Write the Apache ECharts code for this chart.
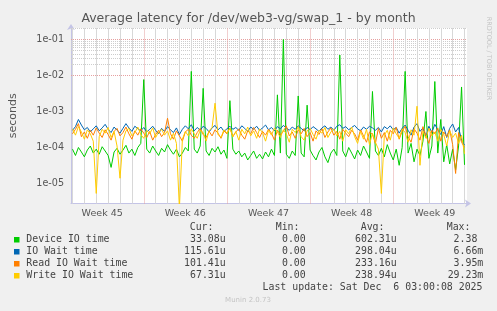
<!DOCTYPE html>
<html><head><meta charset="utf-8">
<script src="https://cdn.jsdelivr.net/npm/echarts@6/dist/echarts.min.js"></script>
<style>html,body{margin:0;padding:0;background:#f0f0f0;}#c{width:497px;height:311px;}</style>
</head><body><div id="c"></div>
<script>
// ---- texts ----
const chartTitle = 'Average latency for /dev/web3-vg/swap_1 - by month';
const yAxisTitle = 'seconds';
const sideCredit = 'RRDTOOL / TOBI OETIKER';
const footerText = 'Munin 2.0.73';
const lastUpdate = 'Last update: Sat Dec  6 03:00:08 2025';

// ---- legend ----
const seriesNames = ['Device IO time', 'IO Wait time', 'Read IO Wait time', 'Write IO Wait time'];
const seriesColors = ['#00CC00', '#0066B3', '#FF8000', '#FFCC00'];
const legendHeaders = ['Cur:', 'Min:', 'Avg:', 'Max:'];
const curVals = ['33.08u', '115.61u', '101.41u', '67.31u'];
const minVals = ['0.00 ', '0.00 ', '0.00 ', '0.00 '];
const avgVals = ['602.31u', '298.04u', '233.16u', '238.94u'];
const maxVals = ['2.38 ', '6.66m', '3.95m', '29.23m'];

// ---- x axis (time in ms, UTC) ----
const weekLabels = ['Week 45', 'Week 46', 'Week 47', 'Week 48', 'Week 49'];
const weekCenters = [Date.UTC(2025,10,5,12), Date.UTC(2025,10,12,12), Date.UTC(2025,10,19,12), Date.UTC(2025,10,26,12), Date.UTC(2025,11,3,12)];
const weekStarts = [Date.UTC(2025,10,9), Date.UTC(2025,10,16), Date.UTC(2025,10,23), Date.UTC(2025,10,30)];
const startTime = Date.UTC(2025,10,2,21,0);
const endTime = Date.UTC(2025,11,6,5,0);
const stepHours = 6;

// ---- y axis ----
const yMin = 2.782e-6;
const yMax = 0.2086;

// ---- series values (seconds), one value per 6 hours ----
const deviceIo = [
9e-5,6e-5,1.0e-4,7.5e-5,5.5e-5,8.5e-5,1.1e-4,7e-5,9e-5,6.5e-5,
1.05e-4,8e-5,6e-5,2.8e-5,7.5e-5,9.5e-5,6.5e-5,8.5e-5,1.15e-4,7e-5,
9e-5,6e-5,1.0e-4,1.3e-4,7.7e-3,9e-5,7e-5,1.1e-4,8e-5,6e-5,
9.5e-5,7.5e-5,1.2e-4,8.5e-5,6.5e-5,9e-5,5.5e-5,7e-5,1.0e-4,8e-5,
1.3e-2,9e-5,7e-5,1.1e-4,4.4e-3,8e-5,6e-5,9.5e-5,7.5e-5,1.05e-4,
6.5e-5,8.5e-5,5e-5,2.0e-3,9e-5,6.5e-5,8e-5,5.5e-5,7e-5,4.5e-5,
6e-5,8e-5,5e-5,6.5e-5,4.8e-5,7.5e-5,5.5e-5,9e-5,6e-5,2.9e-3,
7e-5,1.0e-1,6.5e-5,5e-5,8e-5,6e-5,2.7e-3,7e-5,5.5e-5,1.5e-3,
8.5e-5,6e-5,4.5e-5,7.5e-5,1.0e-4,5.5e-5,3.8e-5,7e-5,9e-5,6e-5,
3.7e-2,8e-5,5.5e-5,1.0e-4,7e-5,4.8e-5,8.5e-5,6e-5,1.1e-4,7.5e-5,
5e-5,3.6e-3,8e-5,6e-5,9.5e-5,5.5e-5,1.2e-4,7e-5,4.5e-5,9e-5,
3.2e-5,1.0e-4,1.3e-2,7e-5,1.3e-4,4e-5,9e-5,6e-5,1.5e-4,1.0e-3,
5e-5,1.1e-4,6.8e-3,7e-5,6.0e-4,4e-5,1.2e-4,3.5e-5,9e-5,2.4e-5,
1.1e-4,4.8e-3,3.3e-5];
const ioWait = [
3.0e-4,3.8e-4,6.0e-4,4.2e-4,3.1e-4,3.6e-4,2.7e-4,3.3e-4,4.0e-4,2.9e-4,
3.5e-4,4.4e-4,3.2e-4,2.6e-4,3.7e-4,3.0e-4,2.5e-4,3.4e-4,4.6e-4,3.5e-4,
2.8e-4,3.9e-4,3.3e-4,2.9e-4,3.6e-4,2.7e-4,3.2e-4,3.9e-4,3.0e-4,2.4e-4,
3.4e-4,2.8e-4,3.8e-4,3.1e-4,2.6e-4,3.5e-4,2.3e-4,3.2e-4,4.0e-4,3.3e-4,
4.3e-4,2.9e-4,3.6e-4,3.0e-4,3.9e-4,3.4e-4,2.7e-4,3.5e-4,4.1e-4,3.1e-4,
3.7e-4,2.8e-4,3.3e-4,3.9e-4,3.2e-4,3.6e-4,3.0e-4,4.0e-4,3.4e-4,2.8e-4,
3.7e-4,3.2e-4,3.9e-4,3.0e-4,3.5e-4,4.2e-4,3.1e-4,3.6e-4,2.9e-4,3.8e-4,
3.3e-4,4.1e-4,3.5e-4,3.0e-4,3.7e-4,3.2e-4,4.0e-4,3.4e-4,2.9e-4,3.6e-4,
3.1e-4,3.8e-4,3.3e-4,2.8e-4,3.5e-4,4.0e-4,3.2e-4,3.7e-4,3.0e-4,3.9e-4,
4.3e-4,3.4e-4,3.8e-4,3.1e-4,3.6e-4,4.1e-4,3.3e-4,2.9e-4,3.7e-4,3.2e-4,
3.9e-4,3.5e-4,3.0e-4,3.6e-4,2.7e-4,3.8e-4,3.3e-4,4.0e-4,3.1e-4,3.6e-4,
2.5e-4,3.4e-4,4.2e-4,3.0e-4,2.2e-4,3.7e-4,4.6e-4,2.8e-4,3.5e-4,2.0e-4,
3.9e-4,2.6e-4,4.4e-4,3.1e-4,2.3e-4,3.8e-4,1.9e-4,3.4e-4,4.5e-4,2.7e-4,
3.6e-4,1.6e-4,1.16e-4];
const readIoWait = [
2.4e-4,3.2e-4,4.6e-4,2.0e-4,2.7e-4,1.8e-4,3.0e-4,2.2e-4,3.5e-4,2.5e-4,
1.9e-4,3.1e-4,2.3e-4,1.6e-4,2.8e-4,3.4e-4,2.1e-4,2.6e-4,3.7e-4,2.4e-4,
1.7e-4,2.9e-4,2.2e-4,3.3e-4,2.5e-4,1.9e-4,2.8e-4,1.6e-4,2.3e-4,3.0e-4,
2.0e-4,2.6e-4,6.5e-4,2.4e-4,1.7e-4,2.9e-4,2.1e-4,1.5e-4,2.7e-4,3.2e-4,
2.2e-4,1.8e-4,2.6e-4,3.4e-4,2.3e-4,1.9e-4,2.8e-4,2.1e-4,3.1e-4,2.5e-4,
1.8e-4,2.9e-4,2.4e-4,3.5e-4,2.0e-4,2.7e-4,3.3e-4,2.2e-4,1.7e-4,2.9e-4,
2.4e-4,3.6e-4,2.6e-4,1.9e-4,2.8e-4,2.2e-4,3.2e-4,2.5e-4,1.6e-4,3.0e-4,
2.3e-4,2.8e-4,4.0e-4,2.1e-4,2.7e-4,1.8e-4,3.1e-4,2.4e-4,3.4e-4,2.0e-4,
2.6e-4,1.5e-4,2.9e-4,2.3e-4,3.3e-4,1.9e-4,2.7e-4,3.5e-4,2.2e-4,2.8e-4,
1.7e-4,3.2e-4,2.5e-4,2.0e-4,3.0e-4,2.4e-4,1.6e-4,3.1e-4,2.1e-4,1.4e-4,
2.7e-4,2.3e-4,1.3e-4,3.4e-4,1.8e-4,2.6e-4,1.5e-4,3.0e-4,2.4e-4,3.6e-4,
1.7e-4,2.8e-4,3.9e-4,2.0e-4,1.4e-4,3.3e-4,2.5e-4,1.6e-4,3.8e-4,2.2e-4,
1.3e-4,3.0e-4,2.4e-4,3.5e-4,1.5e-4,2.7e-4,2.0e-4,3.1e-4,1.2e-4,1.9e-5,
2.6e-4,1.4e-4,1.01e-4];
const writeIoWait = [
3.3e-4,2.2e-4,3.8e-4,2.7e-4,1.7e-4,3.1e-4,2.4e-4,1.5e-4,5.3e-6,2.0e-4,
3.2e-4,2.5e-4,3.6e-4,1.9e-4,2.8e-4,1.1e-4,1.4e-5,1.6e-4,2.9e-4,3.4e-4,
2.1e-4,2.6e-4,3.7e-4,2.3e-4,1.8e-4,3.0e-4,2.4e-4,3.5e-4,1.9e-4,2.7e-4,
3.2e-4,2.2e-4,2.9e-4,1.6e-4,2.5e-4,1.3e-4,2.0e-6,1.7e-4,2.8e-4,2.1e-4,
3.3e-4,2.4e-4,1.8e-4,3.0e-4,2.6e-4,1.5e-4,2.9e-4,3.6e-4,1.7e-3,2.3e-4,
1.9e-4,3.1e-4,2.5e-4,3.4e-4,2.0e-4,2.8e-4,1.6e-4,3.2e-4,2.4e-4,3.7e-4,
2.1e-4,2.9e-4,1.8e-4,3.3e-4,2.6e-4,1.5e-4,3.0e-4,2.2e-4,3.5e-4,2.7e-4,
1.9e-4,3.1e-4,2.4e-4,1.4e-4,3.2e-4,2.6e-4,3.8e-4,2.0e-4,1.6e-4,2.9e-4,
3.4e-4,2.3e-4,1.7e-4,3.0e-4,2.5e-4,3.6e-4,1.9e-4,2.7e-4,3.3e-4,2.1e-4,
2.8e-4,1.5e-4,3.1e-4,2.4e-4,3.7e-4,2.0e-4,1.3e-4,2.8e-4,1.7e-4,3.2e-4,
1.2e-4,2.5e-4,1.4e-4,9.0e-5,5.3e-6,2.2e-4,3.0e-4,1.6e-4,3.5e-4,2.4e-4,
1.8e-4,3.3e-4,2.6e-4,1.4e-4,3.1e-4,2.2e-4,1.4e-3,3.2e-5,2.9e-4,1.8e-4,
3.4e-4,2.1e-4,2.7e-4,1.5e-4,3.2e-4,2.3e-4,1.1e-4,2.9e-4,1.9e-4,2.5e-4,
1.3e-4,2.2e-4,6.7e-5];

// ---- build ----
const HOUR = 3600 * 1000;
function toPairs(vals) {
  return vals.map((v, i) => [startTime + (i + 0.5) * stepHours * HOUR, v]);
}
const seriesValues = [deviceIo, ioWait, readIoWait, writeIoWait];

// grid lines (rrdtool style): minor at 2..9 x 10^k, major at 10^k, daily / weekly vertical
const hLines = [];
for (let e = -6; e <= 0; e++) {
  for (let m = 1; m <= 9; m++) {
    const v = m * Math.pow(10, e);
    if (v < yMin || v > yMax) continue;
    hLines.push({ yAxis: v, lineStyle: m === 1 ? { color: '#e6a0a0', width: 1, type: [1, 1] } : { color: '#cdcdcd', width: 1, type: [1, 1] } });
  }
}
const vLines = [];
for (let t = Date.UTC(2025,10,3); t < endTime; t += 24 * HOUR) {
  const isWeek = weekStarts.indexOf(t) >= 0;
  vLines.push({ xAxis: t, lineStyle: isWeek ? { color: '#e6a0a0', width: 1, type: [1, 1] } : { color: '#d8d8d8', width: 1, type: 'solid' } });
}

const legendFont = 'DejaVu Sans Mono';
const legendColor = '#444';
const graphics = [];
const headerRight = [213.5, 299.5, 384.5, 470.5];
const colRight = [225.7, 311.7, 396.7, 483.3];
legendHeaders.forEach((h, k) => graphics.push({
  type: 'text', silent: true,
  style: { text: h, x: headerRight[k], y: 227.5, align: 'right', verticalAlign: 'middle', fontFamily: legendFont, fontSize: 9.9, fill: legendColor }
}));
seriesNames.forEach((name, r) => {
  const y = 239.7 + r * 12;
  graphics.push({ type: 'rect', silent: true, shape: { x: 14, y: y - 2.7, width: 5.5, height: 5.5 }, style: { fill: seriesColors[r] } });
  graphics.push({ type: 'text', silent: true,
    style: { text: name, x: 26.3, y: y, align: 'left', verticalAlign: 'middle', fontFamily: legendFont, fontSize: 9.9, fill: legendColor } });
  [curVals[r], minVals[r], avgVals[r], maxVals[r]].forEach((val, k) => graphics.push({
    type: 'text', silent: true,
    style: { text: val, x: colRight[k], y: y, align: 'right', verticalAlign: 'middle', fontFamily: legendFont, fontSize: 9.9, fill: legendColor }
  }));
});
graphics.push({ type: 'text', silent: true,
  style: { text: lastUpdate, x: 482.5, y: 287.5, align: 'right', verticalAlign: 'middle', fontFamily: legendFont, fontSize: 9.9, fill: legendColor } });
graphics.push({ type: 'text', silent: true,
  style: { text: footerText, x: 248, y: 300.3, align: 'center', verticalAlign: 'middle', fontFamily: 'DejaVu Sans', fontSize: 7, fill: '#c4c4c4' } });
graphics.push({ type: 'text', silent: true, x: 489, y: 58.5, rotation: -Math.PI / 2,
  style: { text: sideCredit, x: 0, y: 0, align: 'center', verticalAlign: 'middle', fontFamily: 'DejaVu Sans', fontSize: 6.5, fill: '#c4c4c4' } });

const axisLineStyle = { color: '#c4c4e6', width: 1 };
const markLineBase = { z: 1, silent: true, symbol: ['none', 'none'], label: { show: false }, emphasis: { disabled: true }, animation: false };
const option = {
  backgroundColor: '#f0f0f0',
  animation: false,
  textStyle: { fontFamily: 'DejaVu Sans' },
  title: {
    text: chartTitle, left: 'center', top: 12, padding: 0,
    textStyle: { fontSize: 12.5, fontWeight: 'normal', color: '#555', fontFamily: 'DejaVu Sans' }
  },
  grid: { left: 67, top: 28, width: 400, height: 175.5, show: true, backgroundColor: '#ffffff', borderWidth: 0, containLabel: false },
  xAxis: {
    type: 'value', min: startTime, max: endTime, scale: true,
    axisLine: { show: true, lineStyle: axisLineStyle, symbol: ['none', 'arrow'], symbolSize: [6, 6], symbolOffset: [0, 4] },
    axisTick: { show: false },
    splitLine: { show: false },
    axisLabel: {
      customValues: weekCenters,
      formatter: v => { const k = weekCenters.indexOf(v); return k >= 0 ? weekLabels[k] : ''; },
      fontSize: 9.5, color: '#555', margin: 5, hideOverlap: false, fontFamily: 'DejaVu Sans',
      showMinLabel: true, showMaxLabel: true
    }
  },
  yAxis: {
    type: 'log', logBase: 10, min: yMin, max: yMax,
    name: yAxisTitle, nameLocation: 'middle', nameGap: 52,
    nameTextStyle: { fontSize: 11, color: '#555', fontFamily: 'DejaVu Sans' },
    axisLine: { show: true, lineStyle: axisLineStyle, symbol: ['none', 'arrow'], symbolSize: [6, 6], symbolOffset: [0, 4] },
    axisTick: { show: false },
    splitLine: { show: false },
    axisLabel: {
      formatter: v => {
        const e = Math.log10(v); const r = Math.round(e);
        if (Math.abs(e - r) > 1e-6) return '';
        return '1e' + (r < 0 ? '-' : '+') + String(Math.abs(r)).padStart(2, '0');
      },
      fontSize: 9.6, color: '#555', margin: 7, fontFamily: 'DejaVu Sans', showMinLabel: false, showMaxLabel: false
    }
  },
  series: [
    { type: 'line', data: [], z: 1, silent: true, markLine: Object.assign({ data: hLines }, markLineBase) },
    { type: 'line', data: [], z: 1, silent: true, markLine: Object.assign({ data: vLines }, markLineBase) }
  ].concat(seriesValues.map((vals, k) => ({
    name: seriesNames[k], type: 'line', z: 2 + k, data: toPairs(vals),
    showSymbol: false, symbol: 'none', clip: true,
    lineStyle: { color: seriesColors[k], width: 1 }, itemStyle: { color: seriesColors[k] },
    emphasis: { disabled: true }
  }))),
  graphic: graphics
};
const chart = echarts.init(document.getElementById('c'), null, { renderer: 'canvas' });
chart.setOption(option);
</script>
</body></html>
